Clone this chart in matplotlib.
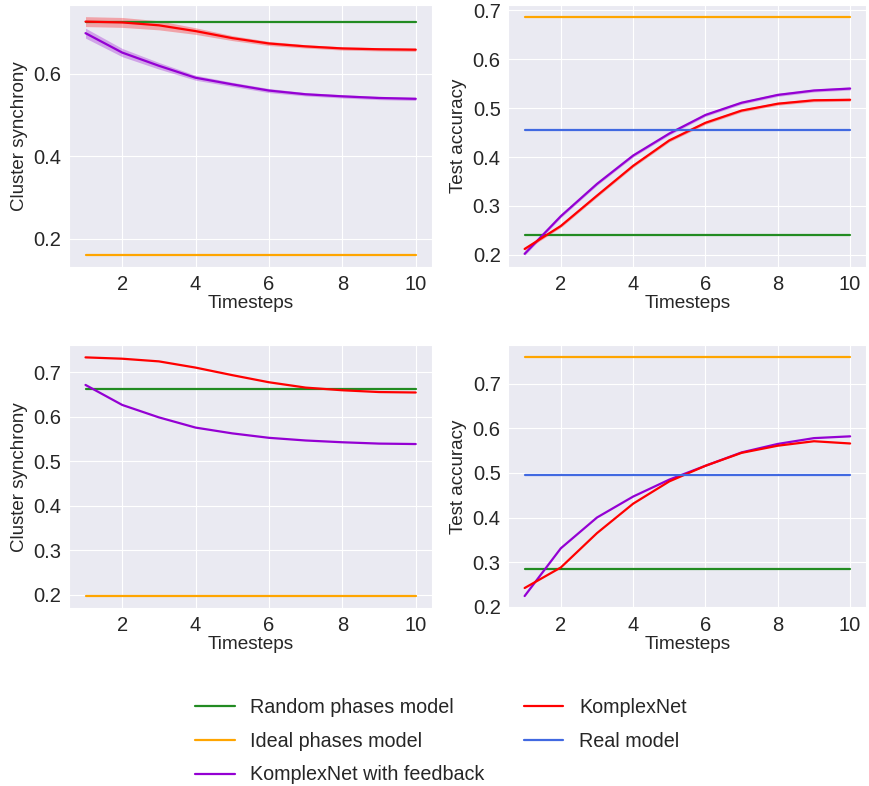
import numpy as np
import matplotlib
matplotlib.use('Agg')
import matplotlib.pyplot as plt
import seaborn as sns

sns.set_style('darkgrid')
plt.rcParams['font.family'] = ['Liberation Sans', 'DejaVu Sans']

steps = np.arange(1, 11)

# top row: mean and spread over runs
sync1_random, sync1_ideal = 0.726, 0.160
sync1_komplex = [0.726, 0.724, 0.717, 0.703, 0.686, 0.673, 0.666, 0.661, 0.659, 0.658]
sync1_komplex_sd = [0.012, 0.012, 0.011, 0.008, 0.006, 0.005, 0.004, 0.004, 0.004, 0.004]
sync1_feedback = [0.698, 0.651, 0.619, 0.590, 0.574, 0.559, 0.550, 0.545, 0.541, 0.539]
sync1_feedback_sd = [0.012, 0.010, 0.008, 0.006, 0.005, 0.005, 0.004, 0.004, 0.004, 0.004]

acc1_random, acc1_ideal, acc1_real = 0.240, 0.687, 0.455
acc1_komplex = [0.212, 0.259, 0.321, 0.382, 0.434, 0.470, 0.495, 0.509, 0.516, 0.517]
acc1_komplex_sd = [0.003] * 10
acc1_feedback = [0.202, 0.279, 0.345, 0.403, 0.448, 0.486, 0.511, 0.527, 0.536, 0.540]
acc1_feedback_sd = [0.003] * 10

# bottom row
sync2_random, sync2_ideal = 0.6625, 0.197
sync2_komplex = [0.734, 0.731, 0.725, 0.711, 0.694, 0.678, 0.666, 0.660, 0.656, 0.655]
sync2_feedback = [0.672, 0.627, 0.599, 0.576, 0.563, 0.553, 0.547, 0.543, 0.540, 0.539]

acc2_random, acc2_ideal, acc2_real = 0.285, 0.759, 0.495
acc2_komplex = [0.242, 0.288, 0.365, 0.431, 0.481, 0.516, 0.545, 0.561, 0.571, 0.566]
acc2_feedback = [0.224, 0.331, 0.400, 0.447, 0.485, 0.516, 0.546, 0.565, 0.578, 0.582]

c_random, c_ideal, c_feed, c_komplex, c_real = 'forestgreen', 'orange', 'darkviolet', 'red', 'royalblue'
lw = 1.6


def band(ax, y, sd, color):
    y, sd = np.array(y), np.array(sd)
    ax.fill_between(steps, y - sd, y + sd, color=color, alpha=0.3, linewidth=0)


def flat(ax, v, color, label):
    ax.plot(steps, [v] * len(steps), color=color, lw=lw, label=label)


fig = plt.figure(figsize=(8.69, 7.86), dpi=100)
ax1 = fig.add_axes([0.0794, 0.660, 0.418, 0.334])
ax2 = fig.add_axes([0.585, 0.660, 0.412, 0.334])
ax3 = fig.add_axes([0.0794, 0.2265, 0.418, 0.334])
ax4 = fig.add_axes([0.585, 0.2265, 0.412, 0.334])

flat(ax1, sync1_random, c_random, 'Random phases model')
flat(ax1, sync1_ideal, c_ideal, 'Ideal phases model')
band(ax1, sync1_feedback, sync1_feedback_sd, c_feed)
ax1.plot(steps, sync1_feedback, color=c_feed, lw=lw, label='KomplexNet with feedback')
band(ax1, sync1_komplex, sync1_komplex_sd, c_komplex)
ax1.plot(steps, sync1_komplex, color=c_komplex, lw=lw, label='KomplexNet')
ax1.set_yticks([0.2, 0.4, 0.6])

flat(ax2, acc1_random, c_random, 'Random phases model')
flat(ax2, acc1_ideal, c_ideal, 'Ideal phases model')
band(ax2, acc1_feedback, acc1_feedback_sd, c_feed)
ax2.plot(steps, acc1_feedback, color=c_feed, lw=lw, label='KomplexNet with feedback')
band(ax2, acc1_komplex, acc1_komplex_sd, c_komplex)
ax2.plot(steps, acc1_komplex, color=c_komplex, lw=lw, label='KomplexNet')
flat(ax2, acc1_real, c_real, 'Real model')

flat(ax3, sync2_random, c_random, 'Random phases model')
flat(ax3, sync2_ideal, c_ideal, 'Ideal phases model')
ax3.plot(steps, sync2_feedback, color=c_feed, lw=lw, label='KomplexNet with feedback')
ax3.plot(steps, sync2_komplex, color=c_komplex, lw=lw, label='KomplexNet')

flat(ax4, acc2_random, c_random, 'Random phases model')
flat(ax4, acc2_ideal, c_ideal, 'Ideal phases model')
ax4.plot(steps, acc2_feedback, color=c_feed, lw=lw, label='KomplexNet with feedback')
ax4.plot(steps, acc2_komplex, color=c_komplex, lw=lw, label='KomplexNet')
flat(ax4, acc2_real, c_real, 'Real model')

for ax in (ax1, ax3):
    ax.set_ylabel('Cluster synchrony', fontsize=13.5)
for ax in (ax2, ax4):
    ax.set_ylabel('Test accuracy', fontsize=13.5)
for ax in (ax1, ax2, ax3, ax4):
    ax.set_xlabel('Timesteps', fontsize=13.7, labelpad=1)
    ax.set_xticks([2, 4, 6, 8, 10])
    ax.tick_params(labelsize=14.5, pad=2)

handles, labels = ax4.get_legend_handles_labels()
fig.legend(handles, labels,
           loc='center', bbox_to_anchor=(0.5075, 0.057), ncol=2, frameon=False,
           fontsize=14.2, columnspacing=2.0, handlelength=2.0, labelspacing=0.75)

fig.savefig('out.png', dpi=100)
